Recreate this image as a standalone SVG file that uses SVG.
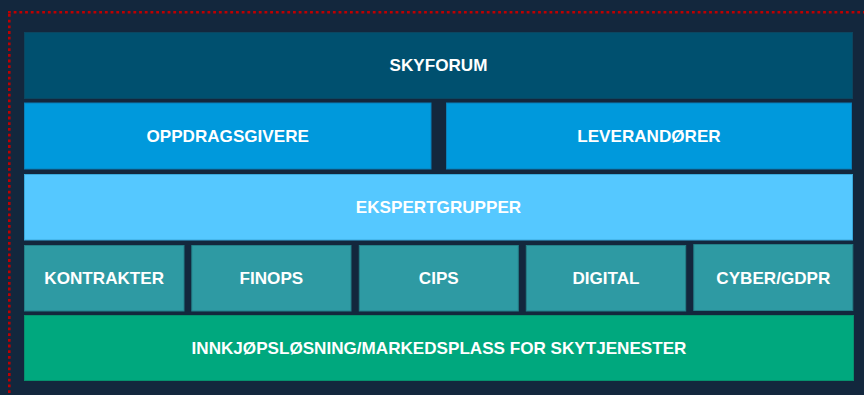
<svg xmlns="http://www.w3.org/2000/svg" width="864" height="395" viewBox="0 0 864 395">
<style>
.lbl{font-family:"Liberation Sans",Arial,sans-serif;font-weight:bold;font-size:17.1px;fill:#ffffff;text-anchor:middle}
.box{stroke-width:1}
.top{fill:#00506f;stroke:#0b4660}
.mid{fill:#0099dc;stroke:#0a7fb8}
.exp{fill:#55c8ff;stroke:#3aa9db}
.grp{fill:#2e9aa3;stroke:#237f88}
.base{fill:#00a87e;stroke:#07906d}
</style>
<rect x="0" y="0" width="864" height="395" fill="#13273d"/>
<g id="frame" fill="none" stroke="#c00000" stroke-width="2.6" stroke-dasharray="2.8 2.9">
<line x1="8" y1="12.3" x2="864" y2="12.3"/>
<line x1="9.3" y1="14" x2="9.3" y2="395"/>
</g>
<g id="skyforum"><rect class="box top" x="24.5" y="32.5" width="828" height="66"/><text class="lbl" x="438.5" y="71.2">SKYFORUM</text></g>
<g id="oppdragsgivere"><rect class="box mid" x="24.5" y="103" width="406.5" height="66"/><text class="lbl" x="227.7" y="142.2">OPPDRAGSGIVERE</text></g>
<g id="leverandorer"><rect class="box mid" x="446.5" y="103" width="405" height="66"/><text class="lbl" x="649" y="142.2">LEVERANDØRER</text></g>
<g id="ekspertgrupper"><rect class="box exp" x="24.5" y="174.5" width="828" height="65.5"/><text class="lbl" x="438.5" y="213.2">EKSPERTGRUPPER</text></g>
<g id="kontrakter"><rect class="box grp" x="24.5" y="245.5" width="159.5" height="65.5"/><text class="lbl" x="104.2" y="284.2">KONTRAKTER</text></g>
<g id="finops"><rect class="box grp" x="191.8" y="245.5" width="159.2" height="65.5"/><text class="lbl" x="271.4" y="284.2">FINOPS</text></g>
<g id="cips"><rect class="box grp" x="359.3" y="245.5" width="159" height="65.5"/><text class="lbl" x="438.8" y="284.2">CIPS</text></g>
<g id="digital"><rect class="box grp" x="526.3" y="245.5" width="159.4" height="65.5"/><text class="lbl" x="606" y="284.2">DIGITAL</text></g>
<g id="cyber"><rect class="box grp" x="693.8" y="244.5" width="159" height="66"/><text class="lbl" x="773.3" y="283.7">CYBER/GDPR</text></g>
<g id="innkjop"><rect class="box base" x="24.5" y="315.5" width="829" height="65"/><text class="lbl" x="439" y="354.2">INNKJØPSLØSNING/MARKEDSPLASS FOR SKYTJENESTER</text></g>
<g id="connectors"/>
</svg>
